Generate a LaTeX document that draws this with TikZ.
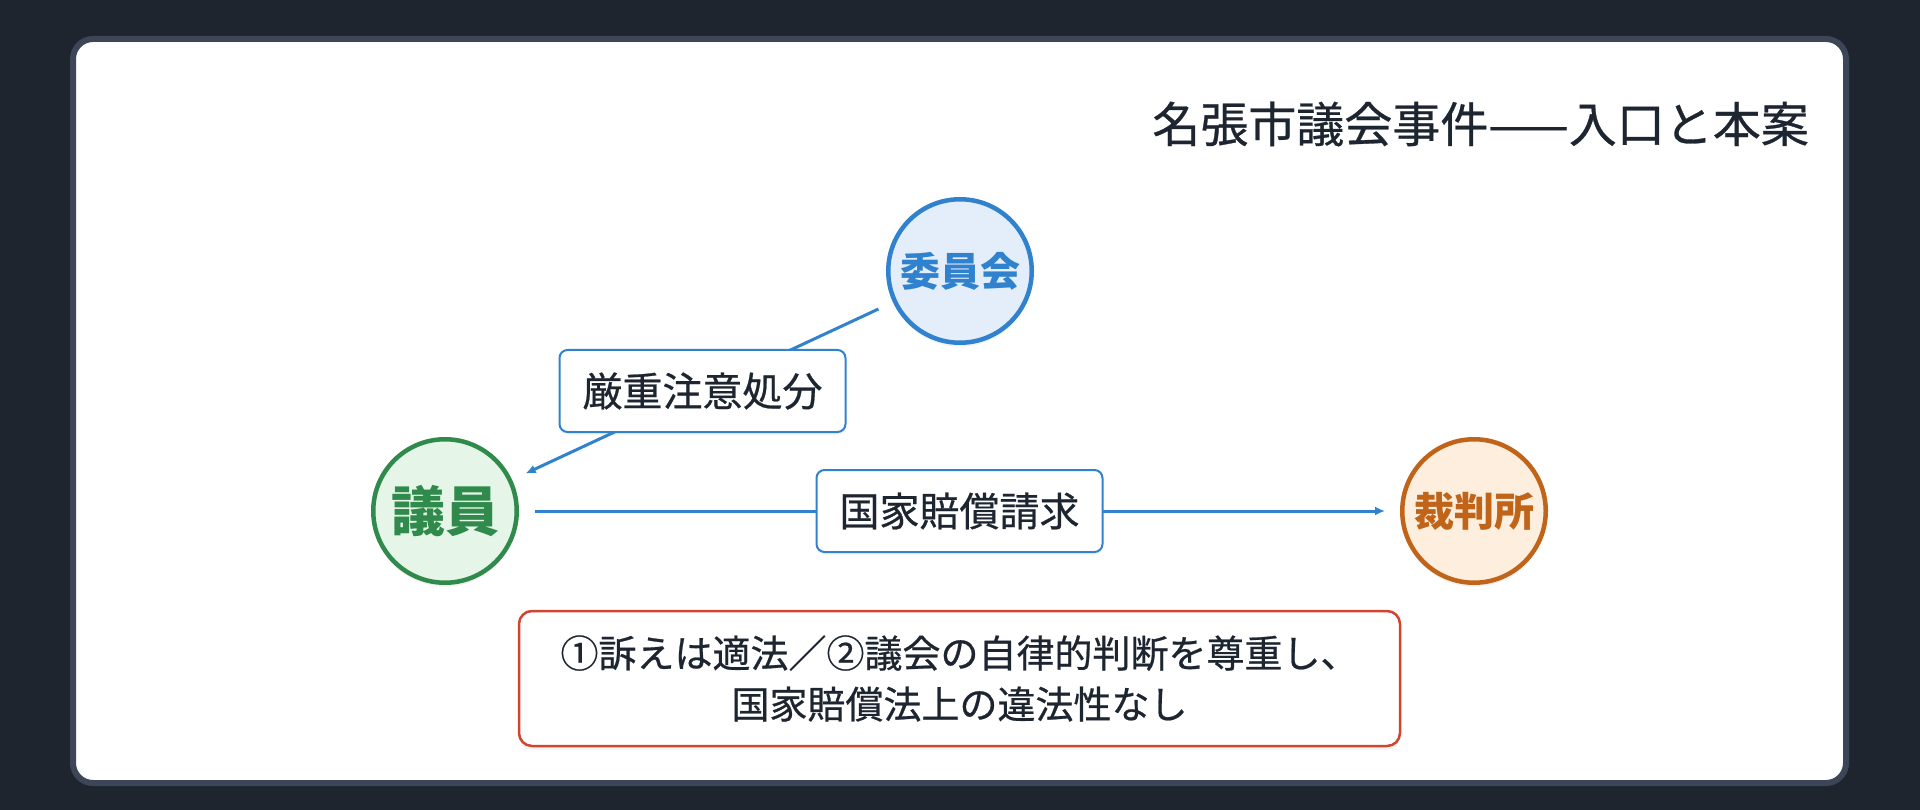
\documentclass[tikz,border=0pt]{standalone}
\usepackage{fontspec}
\setmainfont{Noto Sans CJK JP}
\newfontfamily\medfont{Noto Sans CJK JP}[FakeBold=0.6]
\usetikzlibrary{arrows.meta,shadows}
\definecolor{bgc}{HTML}{1E252F}
\definecolor{panelborder}{HTML}{3C4657}
\definecolor{ink}{HTML}{1D2530}
\definecolor{cblue}{HTML}{3182CE}
\definecolor{cbluefill}{HTML}{E4EEFA}
\definecolor{cgreen}{HTML}{2F8A4C}
\definecolor{cgreenfill}{HTML}{E5F5E8}
\definecolor{corange}{HTML}{C0641A}
\definecolor{corangefill}{HTML}{FDEEDD}
\definecolor{cred}{HTML}{D0452F}
\begin{document}
\begin{tikzpicture}[x=1pt,y=-1pt,
  panelbox/.style={draw=panelborder,line width=6pt,fill=white,rounded corners=20pt},
  titletext/.style={inner sep=0pt,text=ink,font=\fontsize{48}{58}\medfont},
  actor/.style={circle,line width=4.5pt,minimum size=143.5pt,inner sep=0pt,
    drop shadow={opacity=0.10,shadow xshift=0pt,shadow yshift=-4pt}},
  edge/.style={draw=cblue,line width=3pt,-{Latex[length=10pt,width=9pt]},
    shorten <=16pt,shorten >=15pt},
  elabel/.style={draw=cblue,line width=2pt,fill=white,rounded corners=8pt,
    minimum width=286pt,minimum height=82pt,inner sep=0pt,text=ink,
    font=\fontsize{40}{48}\medfont,
    drop shadow={opacity=0.08,shadow xshift=0pt,shadow yshift=-3pt}},
  resultbox/.style={draw=cred,line width=2.5pt,fill=white,rounded corners=13pt,
    minimum width=881pt,minimum height=135pt,inner sep=0pt,text=ink,align=center,
    font=\fontsize{38}{51}\medfont,
    drop shadow={opacity=0.08,shadow xshift=0pt,shadow yshift=-4pt}}
]
\useasboundingbox (0,0) rectangle (1920,810);
\fill[bgc] (0,0) rectangle (1920,810);
\draw[panelbox] (73,39) rectangle (1846,783);
\node[titletext,anchor=east] (title) at (1809,124) {名張市議会事件——入口と本案};
\node[actor,draw=cblue,fill=cbluefill,text=cblue,font=\fontsize{40}{48}\selectfont\bfseries] (kom) at (960,271) {委員会};
\node[actor,draw=cgreen,fill=cgreenfill,text=cgreen,font=\fontsize{54}{64}\selectfont\bfseries] (giin) at (445,511) {議員};
\node[actor,draw=corange,fill=corangefill,text=corange,font=\fontsize{40}{48}\selectfont\bfseries] (court) at (1474,511) {裁判所};
\draw[edge] (kom) -- node[elabel] (l1) {厳重注意処分} (giin);
\draw[edge] (giin) -- node[elabel] (l2) {国家賠償請求} (court);
\node[resultbox] (res) at (959.5,678.5) {①訴えは適法／②議会の自律的判断を尊重し、\\国家賠償法上の違法性なし};
\end{tikzpicture}
\end{document}
